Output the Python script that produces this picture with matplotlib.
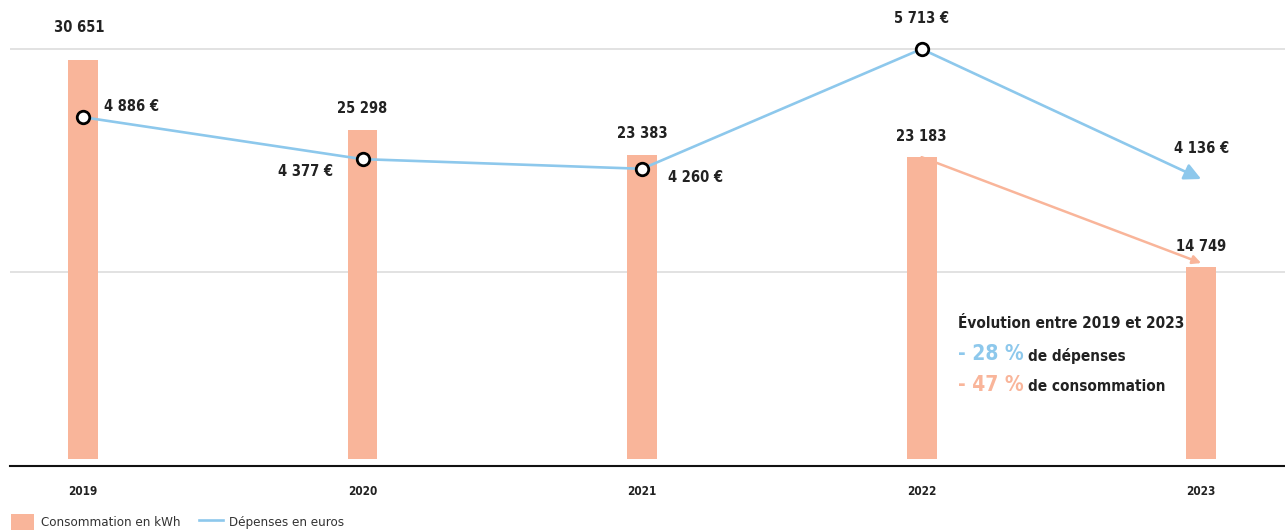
import matplotlib
matplotlib.use("Agg")
import matplotlib.pyplot as plt
from matplotlib.patches import Patch
from matplotlib.lines import Line2D

years = ["2019", "2020", "2021", "2022", "2023"]
conso_kwh = [30651, 25298, 23383, 23183, 14749]
depenses_eur = [4886, 4377, 4260, 5713, 4136]
conso_labels = ["30 651", "25 298", "23 383", "23 183", "14 749"]
dep_labels = ["4 886 €", "4 377 €", "4 260 €", "5 713 €", "4 136 €"]
legend_labels = ["Consommation en kWh", "Dépenses en euros"]
evo_title = "Évolution entre 2019 et 2023"
evo_dep = "- 28 %"
evo_conso = "- 47 %"
evo_dep_txt = "de dépenses"
evo_conso_txt = "de consommation"

SALMON = "#F9B59A"
BLUE = "#8DC8EC"
DARK = "#222222"

plt.rcParams['font.family'] = ['DejaVu Sans']
plt.rcParams['font.stretch'] = 'condensed'

W, H = 1285, 530
fig = plt.figure(figsize=(W / 100, H / 100), dpi=100)
ax_l, ax_r, ax_b, ax_t = 10, 1285, 466, 10
ax = fig.add_axes([ax_l / W, (H - ax_b) / H, (ax_r - ax_l) / W, (ax_b - ax_t) / H])
ax2 = ax.twinx()

x = list(range(len(years)))
ax.set_xlim(-0.261, 4.30)
ax.set_ylim(-538, 34485)
ax2.set_ylim(655, 6186)

# grid lines
for f in [(466 - 49) / 456, (466 - 272) / 456]:
    ax.plot([0, 1], [f, f], transform=ax.transAxes, color="#dddddd", lw=1.2, zorder=0)

ax.bar(x, conso_kwh, width=0.107, color=SALMON, zorder=2)

# consumption trend arrow 2022 -> 2023
ax.annotate("", xy=(4, conso_kwh[4] + 300), xytext=(3, conso_kwh[3]),
            arrowprops=dict(arrowstyle="-|>,head_length=0.5,head_width=0.25", color=SALMON, lw=1.8,
                            shrinkA=0, shrinkB=0), zorder=1)

FS = 10.5
# bar labels
for i, (v, lab) in enumerate(zip(conso_kwh, conso_labels)):
    off = 23 if i == 0 else 15
    ax.annotate(lab, xy=(i, v), xytext=(-3 if i == 0 else 0, off), textcoords="offset points",
                ha="center", va="center", fontsize=FS, fontweight="bold", color=DARK, zorder=5)

# expenses line
ax2.plot(x[:4], depenses_eur[:4], color=BLUE, lw=1.9, zorder=3)
ax2.annotate("", xy=(4, depenses_eur[4]), xytext=(3, depenses_eur[3]),
             arrowprops=dict(arrowstyle="-|>,head_length=1.0,head_width=0.5", color=BLUE, lw=1.9,
                             shrinkA=0, shrinkB=0), zorder=3)
ax2.plot(x[:4], depenses_eur[:4], linestyle="none", marker="o", markersize=9,
         markerfacecolor="white", markeredgecolor="black", markeredgewidth=2, zorder=4)

dep_offsets = [(15, 8, "left"), (-21, -9, "right"), (19, -6, "left"), (0, 22, "center"), (0, 22, "center")]
for i, (v, lab) in enumerate(zip(depenses_eur, dep_labels)):
    dx, dy, ha = dep_offsets[i]
    ax2.annotate(lab, xy=(i, v), xytext=(dx, dy), textcoords="offset points",
                 ha=ha, va="center", fontsize=FS, fontweight="bold", color=DARK, zorder=5)

# axes styling
for s in ["top", "right", "left"]:
    ax.spines[s].set_visible(False)
    ax2.spines[s].set_visible(False)
ax2.spines["bottom"].set_visible(False)
ax.spines["bottom"].set_color("#111111")
ax.spines["bottom"].set_linewidth(1.5)
ax.set_yticks([])
ax2.set_yticks([])
ax.set_xticks(x)
ax.set_xticklabels(years, fontsize=8.5, fontweight="bold", color=DARK)
ax.tick_params(axis="x", length=0, pad=14)

# evolution text
tx1 = (958 - ax_l) / (ax_r - ax_l)
ax.text(tx1, (466 - 323) / 456, evo_title, transform=ax.transAxes, ha="left", va="center",
        fontsize=11, fontweight="bold", color=DARK)
t1 = ax.text(tx1, (466 - 354) / 456, evo_dep, transform=ax.transAxes, ha="left", va="center",
             fontsize=15, fontweight="bold", color=BLUE)
ax.annotate(evo_dep_txt, xy=(1, 0.42), xycoords=t1, xytext=(3, 0), textcoords="offset points",
            ha="left", va="center", fontsize=11, fontweight="bold", color=DARK)
t2 = ax.text(tx1, (466 - 385) / 456, evo_conso, transform=ax.transAxes, ha="left", va="center",
             fontsize=15, fontweight="bold", color=SALMON)
ax.annotate(evo_conso_txt, xy=(1, 0.42), xycoords=t2, xytext=(3, 0), textcoords="offset points",
            ha="left", va="center", fontsize=11, fontweight="bold", color=DARK)

handles = [Patch(facecolor=SALMON, edgecolor="none"), Line2D([], [], color=BLUE, lw=1.9)]
fig.legend(handles, legend_labels, loc="lower left", bbox_to_anchor=(-0.001, -0.022), ncol=2,
           frameon=False, fontsize=9.5, handlelength=1.8, handleheight=1.5, columnspacing=1.4,
           handletextpad=0.5, labelcolor="#333333")

fig.savefig("out.png", dpi=100)
